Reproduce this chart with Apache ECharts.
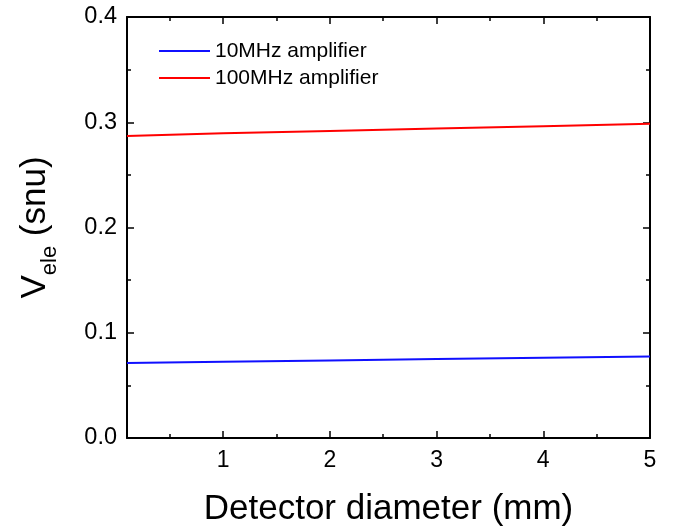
<!DOCTYPE html>
<html>
<head>
<meta charset="utf-8">
<script src="https://cdn.jsdelivr.net/npm/echarts@6/dist/echarts.min.js"></script>
<style>
html,body{margin:0;padding:0;background:#fff;}
#chart{width:684px;height:529px;}
</style>
</head>
<body>
<div id="chart"></div>
<script>
// Data
var diameters = [0.1, 1, 2, 3, 4, 5];
var amp10MHz  = [0.0712, 0.0724, 0.0737, 0.0750, 0.0763, 0.0775];
var amp100MHz = [0.2870, 0.2895, 0.2918, 0.2940, 0.2963, 0.2985];
var seriesNames = ['10MHz amplifier', '100MHz amplifier'];
var xMajorTicks = [1, 2, 3, 4, 5];
var xMinorTicks = [0.5, 1.5, 2.5, 3.5, 4.5];
var xMin = 0.1, xMax = 5;
var yMin = 0, yMax = 0.4, yStep = 0.1;

function pairs(xs, ys) { return xs.map(function (x, i) { return [x, ys[i]]; }); }

var FONT = '"Liberation Sans", Arial, Helvetica, sans-serif';
var lineStyle = { color: '#000', width: 2 };

function xAxisDef(pos, major, showLine, showLabel) {
  return {
    type: 'value', position: pos, min: xMin, max: xMax,
    axisLine: { show: showLine, onZero: false, lineStyle: lineStyle },
    axisTick: { show: true, inside: true, length: major ? 7 : 4,
      customValues: major ? xMajorTicks : xMinorTicks, lineStyle: { color: '#000', width: 1.5 } },
    axisLabel: { show: showLabel, customValues: xMajorTicks, fontSize: 23, color: '#000',
      fontFamily: FONT, margin: 11 },
    splitLine: { show: false }
  };
}

function yAxisDef(pos, showLabel) {
  return {
    type: 'value', position: pos, min: yMin, max: yMax, interval: yStep,
    axisLine: { show: true, onZero: false, lineStyle: lineStyle },
    axisTick: { show: true, inside: true, length: 7, lineStyle: { color: '#000', width: 1.5 } },
    minorTick: { show: true, splitNumber: 2, length: 4, lineStyle: { color: '#000', width: 1.5 } },
    axisLabel: { show: showLabel, fontSize: 23.5, color: '#000', fontFamily: FONT, margin: 10,
      formatter: function (v) { return v.toFixed(1); } },
    splitLine: { show: false }
  };
}

var xAxes = [
  xAxisDef('bottom', true, true, true),
  xAxisDef('bottom', false, false, false),
  xAxisDef('top', true, true, false),
  xAxisDef('top', false, false, false)
];
xAxes[0].name = 'Detector diameter (mm)';
xAxes[0].nameLocation = 'middle';
xAxes[0].nameGap = 54;
xAxes[0].nameMoveOverlap = false;
xAxes[0].nameTextStyle = { fontSize: 35, color: '#000', fontFamily: FONT };

var yAxes = [ yAxisDef('left', true), yAxisDef('right', false) ];
yAxes[0].name = '{v|V}{s|ele}{v| (snu)}';
yAxes[0].nameLocation = 'middle';
yAxes[0].nameRotate = 90;
yAxes[0].nameGap = 66;
yAxes[0].nameMoveOverlap = false;
yAxes[0].nameTextStyle = {
  color: '#000', fontFamily: FONT,
  rich: {
    v: { fontSize: 35, color: '#000', fontFamily: FONT },
    s: { fontSize: 22, color: '#000', fontFamily: FONT, padding: [30, 0, 0, 0] }
  }
};

var chart = echarts.init(document.getElementById('chart'), null, { renderer: 'canvas' });
chart.setOption({
  backgroundColor: '#fff',
  animation: false,
  grid: { left: 127, right: 34, top: 17, bottom: 91, containLabel: false, outerBoundsMode: 'none' },
  legend: {
    orient: 'vertical', left: 159, top: 40.5, padding: 0, itemWidth: 51, itemHeight: 2, itemGap: 6,
    icon: 'rect',
    textStyle: { fontSize: 21, color: '#000', fontFamily: FONT },
    data: seriesNames
  },
  xAxis: xAxes,
  yAxis: yAxes,
  series: [
    { name: seriesNames[0], type: 'line', xAxisIndex: 0, yAxisIndex: 0, showSymbol: false,
      symbol: 'none', color: '#1010ff', lineStyle: { width: 2, color: '#1010ff' },
      data: pairs(diameters, amp10MHz) },
    { name: seriesNames[1], type: 'line', xAxisIndex: 0, yAxisIndex: 0, showSymbol: false,
      symbol: 'none', color: '#ff0000', lineStyle: { width: 2, color: '#ff0000' },
      data: pairs(diameters, amp100MHz) }
  ]
});
</script>
</body>
</html>
